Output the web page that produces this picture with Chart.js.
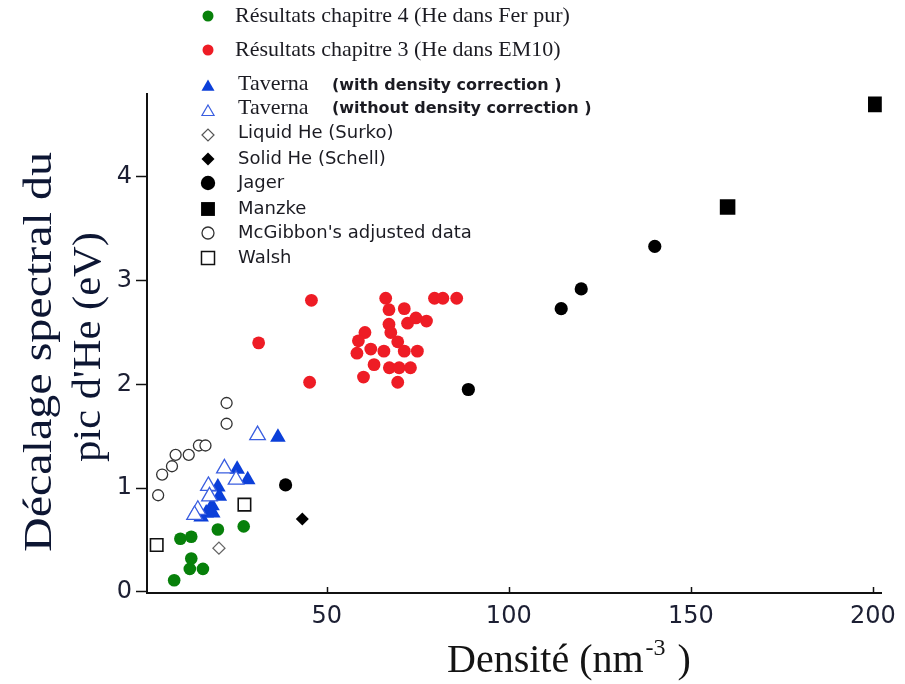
<!DOCTYPE html>
<html>
<head>
<meta charset="utf-8">
<script src="https://cdn.jsdelivr.net/npm/chart.js@4"></script>
<style>
  html, body { margin: 0; padding: 0; background: #fff; }
  #wrap { width: 905px; height: 684px; }
</style>
</head>
<body>
<div id="wrap"><canvas id="chart" width="905" height="684"></canvas></div>
<script>
// data (x = density nm^-3, y = shift eV)
const xTicks = [50, 100, 150, 200];
const yTicks = [0, 1, 2, 3, 4];

const ch4X = [8.1, 12.4, 16.0, 12.8, 9.8, 12.8, 20.1, 27.2];
const ch4Y = [0.11, 0.22, 0.22, 0.32, 0.51, 0.53, 0.60, 0.63];

const ch3X = [45.8, 31.3, 45.3, 66.2, 67.1, 71.3, 67.1, 72.2, 74.5, 77.4, 79.6, 81.9, 85.7, 60.5,
  58.7, 67.6, 69.5, 58.3, 62.1, 65.7, 71.3, 74.9, 63.0, 67.2, 69.9, 73.0, 60.1, 69.5];
const ch3Y = [2.81, 2.40, 2.02, 2.83, 2.72, 2.73, 2.58, 2.59, 2.64, 2.61, 2.83, 2.83, 2.83, 2.50,
  2.42, 2.50, 2.41, 2.30, 2.34, 2.32, 2.32, 2.32, 2.19, 2.16, 2.16, 2.16, 2.07, 2.02];

const tavX = [36.6, 25.4, 28.3, 20.1, 20.5, 18.5, 16.9, 18.7, 15.5];
const tavY = [1.49, 1.18, 1.08, 1.01, 0.92, 0.83, 0.76, 0.76, 0.72];

const tavNoX = [31.0, 21.9, 25.1, 17.5, 17.8, 14.6, 13.7];
const tavNoY = [1.51, 1.19, 1.08, 1.02, 0.92, 0.79, 0.74];

const surkoX = [20.4];
const surkoY = [0.42];

const schellX = [43.3];
const schellY = [0.70];

const jagerX = [38.7, 88.9, 114.4, 119.9, 140.1];
const jagerY = [1.03, 1.95, 2.73, 2.92, 3.33];

const manzkeX = [160.1, 200.8];
const manzkeY = [3.71, 4.70];

const mcgX = [3.7, 4.8, 7.5, 8.5, 12.1, 14.9, 16.7, 22.5, 22.5];
const mcgY = [0.93, 1.13, 1.21, 1.32, 1.32, 1.41, 1.41, 1.62, 1.82];

const walshX = [3.3, 27.4];
const walshY = [0.45, 0.84];

const GREEN = "#07800a";
const RED = "#ee1c25";
const BLUE = "#0b3fd9";

const toPoints = (xs, ys) => xs.map((x, i) => ({ x: x, y: ys[i] }));

function series(label, xs, ys, style) {
  return Object.assign({
    label: label,
    data: toPoints(xs, ys),
    showLine: false,
    pointBorderWidth: 0
  }, style);
}

const datasets = [
  series("McGibbon's adjusted data", mcgX, mcgY, { pointStyle: "circle", pointRadius: 5.5, pointBackgroundColor: "#fff", pointBorderColor: "#333", pointBorderWidth: 1.3 }),
  series("Walsh", walshX, walshY, { pointStyle: "rect", pointRadius: 8.8, pointBackgroundColor: "#fff", pointBorderColor: "#111", pointBorderWidth: 1.6 }),
  series("Liquid He (Surko)", surkoX, surkoY, { pointStyle: "rectRot", pointRadius: 6, pointBackgroundColor: "#fff", pointBorderColor: "#666", pointBorderWidth: 1.3 }),
  series("Taverna (without density correction )", tavNoX, tavNoY, { pointStyle: "triangle", pointRadius: 9, pointBackgroundColor: "#fff", pointBorderColor: "#3a5ee0", pointBorderWidth: 1.3 }),
  series("Taverna (with density correction )", tavX, tavY, { pointStyle: "triangle", pointRadius: 9, pointBackgroundColor: BLUE, pointBorderColor: BLUE }),
  series("Résultats chapitre 4 (He dans Fer pur)", ch4X, ch4Y, { pointStyle: "circle", pointRadius: 6.3, pointBackgroundColor: GREEN, pointBorderColor: GREEN }),
  series("Résultats chapitre 3 (He dans EM10)", ch3X, ch3Y, { pointStyle: "circle", pointRadius: 6.4, pointBackgroundColor: RED, pointBorderColor: RED }),
  series("Solid He (Schell)", schellX, schellY, { pointStyle: "rectRot", pointRadius: 6.5, pointBackgroundColor: "#000", pointBorderColor: "#000" }),
  series("Jager", jagerX, jagerY, { pointStyle: "circle", pointRadius: 6.6, pointBackgroundColor: "#000", pointBorderColor: "#000" }),
  series("Manzke", manzkeX, manzkeY, { pointStyle: "rect", pointRadius: 11, pointBackgroundColor: "#000", pointBorderColor: "#000" })
];

// legend drawn by hand (it sits partly above the plot, like the original)
const SERIF = "'Liberation Serif', 'Times New Roman', serif";
const SANS = "'DejaVu Sans', Verdana, sans-serif";
const legendRows = [
  { y: 16, style: "circle", r: 5.5, fill: GREEN, stroke: GREEN, parts: [{ t: "Résultats chapitre 4 (He dans Fer pur)", x: 235, f: "22px " + SERIF }] },
  { y: 50, style: "circle", r: 5.5, fill: RED, stroke: RED, parts: [{ t: "Résultats chapitre 3 (He dans EM10)", x: 235, f: "22px " + SERIF }] },
  { y: 87, style: "triangle", r: 7.5, fill: BLUE, stroke: BLUE, parts: [{ t: "Taverna", x: 238, f: "22px " + SERIF, dy: -3 }, { t: "(with density correction )", x: 332, f: "bold 16px " + SANS, dy: -1 }] },
  { y: 112, style: "triangle", r: 7, fill: "#fff", stroke: "#3a5ee0", bw: 1.2, parts: [{ t: "Taverna", x: 238, f: "22px " + SERIF, dy: -4 }, { t: "(without density correction )", x: 332, f: "bold 16px " + SANS, dy: -3 }] },
  { y: 135, style: "rectRot", r: 6, fill: "#fff", stroke: "#555", bw: 1.2, parts: [{ t: "Liquid He (Surko)", x: 238, f: "18px " + SANS, dy: -2 }] },
  { y: 159, style: "rectRot", r: 6.5, fill: "#000", stroke: "#000", parts: [{ t: "Solid He (Schell)", x: 238, f: "18px " + SANS }] },
  { y: 183, style: "circle", r: 7.2, fill: "#000", stroke: "#000", parts: [{ t: "Jager", x: 238, f: "18px " + SANS }] },
  { y: 209, style: "rect", r: 9.8, fill: "#000", stroke: "#000", parts: [{ t: "Manzke", x: 238, f: "18px " + SANS }] },
  { y: 233, style: "circle", r: 6, fill: "#fff", stroke: "#333", bw: 1.3, parts: [{ t: "McGibbon's adjusted data", x: 238, f: "18px " + SANS }] },
  { y: 258, style: "rect", r: 9.2, fill: "#fff", stroke: "#111", bw: 1.5, parts: [{ t: "Walsh", x: 238, f: "18px " + SANS }] }
];

// y title lines: text, centre x, centre y, length along the axis
const yTitleLines = [
  ["Décalage spectral du", 40, 352, 400],
  ["pic d'He (eV)", 89, 347, 230]
];

const overlay = {
  id: "overlay",
  afterDraw(chart) {
    const ctx = chart.ctx;
    const xs = chart.scales.x;
    ctx.save();

    // x ticks point into the plot
    ctx.strokeStyle = "#111";
    ctx.lineWidth = 1.5;
    xTicks.forEach(v => {
      const px = Math.round(xs.getPixelForValue(v)) + 0.5;
      ctx.beginPath();
      ctx.moveTo(px, xs.top + 1);
      ctx.lineTo(px, xs.top - 6);
      ctx.stroke();
    });

    // legend
    legendRows.forEach(row => {
      ctx.fillStyle = row.fill;
      ctx.strokeStyle = row.stroke;
      ctx.lineWidth = row.bw || 0;
      Chart.helpers.drawPoint(ctx, { pointStyle: row.style, radius: row.r, rotation: 0, borderWidth: row.bw || 0 }, 208, row.y);
      ctx.textBaseline = "middle";
      ctx.textAlign = "left";
      ctx.fillStyle = "#1b1b22";
      row.parts.forEach(p => {
        ctx.font = p.f;
        ctx.fillText(p.t, p.x, row.y + (p.dy || 0));
      });
    });

    // x title with superscript
    ctx.fillStyle = "#141414";
    ctx.textBaseline = "alphabetic";
    ctx.textAlign = "left";
    let tx = 447;
    const base = 672;
    ctx.font = "40px " + SERIF;
    ctx.fillText("Densité (nm", tx, base);
    tx += ctx.measureText("Densité (nm").width;
    ctx.font = "24px " + SERIF;
    ctx.fillText("-3", tx + 2, base - 17);
    tx += ctx.measureText("-3").width + 4;
    ctx.font = "40px " + SERIF;
    ctx.fillText(" )", tx, base);

    // y title, two lines, rotated and stretched to the original length
    ctx.fillStyle = "#0d1633";
    ctx.textAlign = "center";
    ctx.textBaseline = "middle";
    ctx.font = "41px " + SERIF;
    yTitleLines.forEach(([txt, cx, cy, len]) => {
      const w = ctx.measureText(txt).width;
      ctx.save();
      ctx.translate(cx, cy);
      ctx.rotate(-Math.PI / 2);
      ctx.scale(len / w, 1);
      ctx.fillText(txt, 0, 0);
      ctx.restore();
    });

    ctx.restore();
  }
};

new Chart(document.getElementById("chart"), {
  type: "scatter",
  data: { datasets: datasets },
  options: {
    responsive: false,
    animation: false,
    layout: { padding: { top: 94, right: 18, left: 0, bottom: 0 } },
    plugins: {
      legend: { display: false },
      tooltip: { enabled: false }
    },
    scales: {
      x: {
        type: "linear",
        min: 0.64,
        max: 202.45,
        afterBuildTicks: scale => { scale.ticks = xTicks.map(v => ({ value: v })); },
        afterFit: scale => { scale.height = 91; },
        grid: { display: true, drawOnChartArea: false, drawTicks: false },
        border: { display: true, color: "#111", width: 2 },
        ticks: {
          padding: 9,
          color: "#1c1f33",
          font: { family: "DejaVu Sans", size: 24 },
          maxRotation: 0
        }
      },
      y: {
        type: "linear",
        min: -0.0125,
        max: 4.8,
        afterBuildTicks: scale => { scale.ticks = yTicks.map(v => ({ value: v })); },
        afterFit: scale => { scale.width = 147; },
        grid: { display: true, drawOnChartArea: false, drawTicks: true, tickLength: 11, color: "#111", tickWidth: 1.5 },
        border: { display: true, color: "#111", width: 2 },
        ticks: {
          padding: 4,
          color: "#1c1f33",
          font: { family: "DejaVu Sans", size: 24 }
        }
      }
    }
  },
  plugins: [overlay]
});
</script>
</body>
</html>
